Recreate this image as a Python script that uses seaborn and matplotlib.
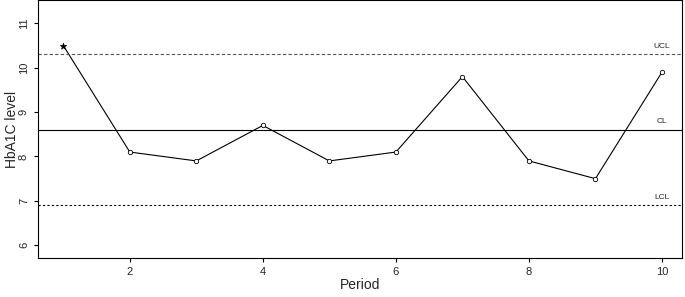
import numpy as np
import pandas as pd
import matplotlib
matplotlib.use("Agg")
import matplotlib.pyplot as plt
import seaborn as sns

sns.set_theme(style="white")
plt.rcParams["font.family"] = ["Liberation Sans", "DejaVu Sans"]

# Datos
period = [1, 2, 3, 4, 5, 6, 7, 8, 9, 10]
hba1c = [10.5, 8.1, 7.9, 8.7, 7.9, 8.1, 9.8, 7.9, 7.5, 9.9]
limit_names = ["UCL", "CL", "LCL"]
limit_values = [10.3, 8.6, 6.9]
limit_styles = [(0, (3, 2)), "-", (0, (2, 2))]

df = pd.DataFrame({"Period": period, "HbA1C": hba1c})
df["out"] = df["HbA1C"] > limit_values[0]

fig = plt.figure(figsize=(6.85, 2.97), dpi=100)
ax = fig.add_axes([0.0555, 0.131, 0.94, 0.868])

sns.lineplot(data=df, x="Period", y="HbA1C", color="black", linewidth=0.8, ax=ax)
inside = df[~df["out"]]
outside = df[df["out"]]
sns.scatterplot(data=inside, x="Period", y="HbA1C", marker="o", s=10,
                facecolor="white", edgecolor="black", linewidth=0.6, zorder=3, ax=ax)
sns.scatterplot(data=outside, x="Period", y="HbA1C", marker="*", s=22,
                color="black", edgecolor="black", linewidth=0.5, zorder=3, ax=ax)

for name, val, ls in zip(limit_names, limit_values, limit_styles):
    ax.axhline(val, color="black" if name != "UCL" else "#555555",
               linestyle=ls, linewidth=0.8)
    ax.text(10.0, val + 0.1, name, fontsize=6, ha="center", va="bottom")

ax.set_xlim(0.62, 10.3)
ax.set_ylim(5.71, 11.52)
ax.set_xticks([2, 4, 6, 8, 10])
ax.set_yticks([6, 7, 8, 9, 10, 11])
ax.tick_params(axis="both", length=3, width=0.8, color="black", labelsize=8,
               bottom=True, left=True, pad=3.5)
for lab in ax.get_yticklabels():
    lab.set_rotation(90)
    lab.set_va("center")
ax.set_xlabel("Period", fontsize=10)
ax.set_ylabel("HbA1C level", fontsize=10)
ax.xaxis.set_label_coords(0.5, -0.105)
ax.yaxis.set_label_coords(-0.040, 0.5)
ax.xaxis.label.set_va("center")
ax.yaxis.label.set_va("center")
for sp in ax.spines.values():
    sp.set_color("black")
    sp.set_linewidth(0.8)

fig.savefig("out.png", dpi=100)
